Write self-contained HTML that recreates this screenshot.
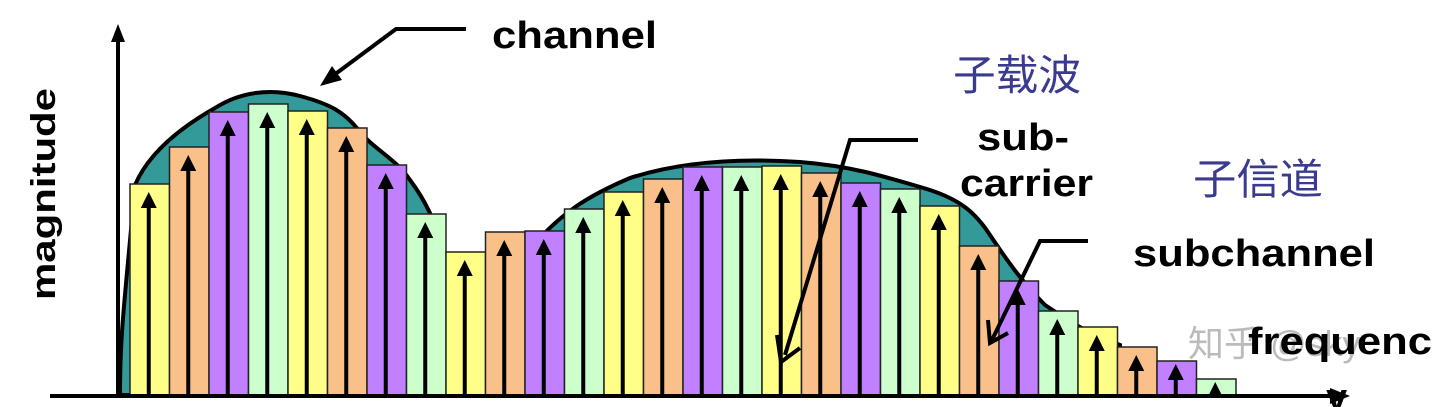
<!DOCTYPE html>
<html><head><meta charset="utf-8"><style>
html,body{margin:0;padding:0;background:#fff;width:1440px;height:407px;overflow:hidden}
svg{display:block}
text{font-family:"Liberation Sans",sans-serif;font-weight:bold;fill:#000}
.cjk{font-family:"Liberation Sans","Noto Sans CJK SC",sans-serif;font-weight:normal;fill:#3a3a90}
</style></head><body>
<svg id="chart" width="1440" height="407" viewBox="0 0 1440 407" xmlns="http://www.w3.org/2000/svg">
<path d="M120,395 C120,330 125,300 135,185 C150,150 185,125 215,108 C240,92 270,88 300,96 C330,104 345,112 360,132 C375,150 395,158 410,180 C425,200 435,220 445,255 L525,255 C560,212 590,195 630,178 C680,162 740,158 800,162 C850,166 880,175 930,190 C960,200 975,212 990,235 C1010,265 1025,285 1045,305 C1065,318 1080,330 1120,345 L1120,395 Z" fill="#339999" stroke="#000" stroke-width="4"/>
<g id="bars"></g>
<line x1="118" y1="395" x2="118" y2="38" stroke="#000" stroke-width="4"/>
<polygon points="118,24 111,42 125,42" fill="#000"/>
<line x1="50" y1="396" x2="1335" y2="396" stroke="#000" stroke-width="4"/>
<polygon points="1350,396 1330,388 1330,404" fill="#000"/>
<text transform="translate(55,194) rotate(-90)" text-anchor="middle" font-size="34" textLength="212" lengthAdjust="spacingAndGlyphs">magnitude</text>
<text x="492" y="48" font-size="38" textLength="165" lengthAdjust="spacingAndGlyphs">channel</text>
<polyline points="466,29 396,29 330,78" fill="none" stroke="#000" stroke-width="4"/>
<polygon points="320,86 332,66 342,80" fill="#000"/>
<text class="cjk" x="953" y="90" font-size="42" textLength="128" lengthAdjust="spacingAndGlyphs">子载波</text>
<text x="977" y="150" font-size="38" textLength="92" lengthAdjust="spacingAndGlyphs">sub-</text>
<text x="960" y="196" font-size="38" textLength="133" lengthAdjust="spacingAndGlyphs">carrier</text>
<polyline points="918,140 850,140 785,355" fill="none" stroke="#000" stroke-width="4"/>
<polyline points="777,335 781,362 800,348" fill="none" stroke="#000" stroke-width="4"/>
<text class="cjk" x="1193" y="194" font-size="42" textLength="130" lengthAdjust="spacingAndGlyphs">子信道</text>
<text x="1133" y="266" font-size="38" textLength="242" lengthAdjust="spacingAndGlyphs">subchannel</text>
<polyline points="1088,241 1040,241 992,340" fill="none" stroke="#000" stroke-width="4"/>
<polyline points="988,320 990,343 1008,333" fill="none" stroke="#000" stroke-width="4"/>
<text class="cjk" x="1188" y="356" font-size="36" style="fill:#bbb">知乎 @sky</text>
<text x="1248" y="354" font-size="38" textLength="184" lengthAdjust="spacingAndGlyphs">frequenc</text>
<text x="1326" y="410" font-size="38">y</text>
</svg>
<script>
const values = [211,248,283,291,284,267,230,181,143,163,164,186,203,216,228,228,229,222,212,206,189,149,114,84,68,48,34,16];
const colors = ["#ffff88","#f9c08a","#c080ff","#ccffcc"];
const x0 = 130, bw = 39.5, base = 395;
function xs(i){return x0 + i*bw;}
function ys(v){return base - v;}
const g = document.getElementById('bars');
const NS = "http://www.w3.org/2000/svg";
values.forEach((v,i)=>{
  const r = document.createElementNS(NS,'rect');
  
  
  r.setAttribute('x',xs(i)); r.setAttribute('y',ys(v));
  r.setAttribute('width',bw); r.setAttribute('height',v);
  r.setAttribute('fill',colors[i%4]); r.setAttribute('stroke','#222'); r.setAttribute('stroke-width','1.5');
  g.appendChild(r);
  const cx = xs(i)+bw/2-1;
  const top = ys(v) + (v>40?8:3);
  const l = document.createElementNS(NS,'line');
  
  
  l.setAttribute('x1',cx); l.setAttribute('x2',cx); l.setAttribute('y1',base); l.setAttribute('y2',top+10);
  l.setAttribute('stroke','#000'); l.setAttribute('stroke-width','4');
  g.appendChild(l);
  const p = document.createElementNS(NS,'polygon');
  
  
  p.setAttribute('points',`${cx},${top} ${cx-8},${top+16} ${cx+8},${top+16}`);
  p.setAttribute('fill','#000');
  g.appendChild(p);
});
</script>
</body></html>
